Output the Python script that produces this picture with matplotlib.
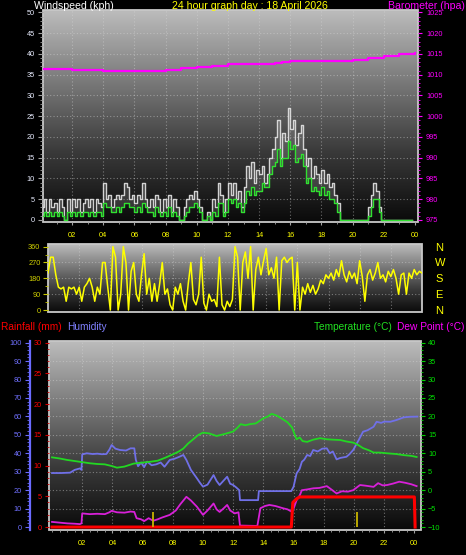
import numpy as np
import matplotlib
matplotlib.use('Agg')
import matplotlib.pyplot as plt
from matplotlib.colors import LinearSegmentedColormap
from matplotlib.patches import Rectangle
from matplotlib.ticker import MultipleLocator

# ---------------- DATA ----------------
title = '24 hour graph day : 18 April 2026'
hour_ticks = [2, 4, 6, 8, 10, 12, 14, 16, 18, 20, 22, 24]
hour_labels = ['02', '04', '06', '08', '10', '12', '14', '16', '18', '20', '22', '00']

# wind, 10-minute samples (kph)
wind_step_h = 1 / 6
wind_gust = [
    3, 5, 2, 5, 3, 4,   2, 5, 3, 0, 5, 2,   5, 3, 5, 2, 4, 5,   3, 5, 2, 5, 4, 3,
    9, 5, 6, 3, 5, 6,   5, 6, 9, 8, 5, 6,   4, 6, 5, 9, 5, 3,   5, 3, 6, 5, 2, 5,
    3, 6, 2, 5, 3, 0,   0, 3, 5, 6, 5, 7,   5, 3, 0, 0, 2, 0,   5, 3, 9, 6, 2, 5,
    9, 6, 9, 5, 7, 3,   8, 13, 10, 14, 9, 12,   11, 13, 9, 11, 15, 17,   20, 24, 15, 21, 19, 27,
    22, 24, 18, 21, 23, 17,   13, 15, 10, 13, 11, 9,   12, 9, 11, 8, 9, 6,   4, 0, 0, 0, 0, 0,
    0, 0, 0, 0, 0, 0,   3, 6, 9, 7, 3, 0,   0, 0, 0, 0, 0, 0,   0, 0, 0, 0, 0, 0]
wind_avg = [
    1, 2, 1, 2, 1, 2,   1, 2, 1, 0, 2, 1,   2, 1, 2, 1, 2, 2,   1, 2, 1, 2, 2, 1,
    4, 3, 3, 2, 2, 3,   2, 3, 4, 4, 3, 3,   2, 3, 2, 4, 3, 2,   2, 1, 3, 2, 1, 2,
    1, 3, 1, 2, 1, 0,   0, 1, 2, 3, 3, 4,   3, 2, 0, 0, 1, 0,   2, 1, 4, 4, 1, 2,
    5, 4, 5, 3, 4, 2,   4, 7, 6, 8, 6, 7,   7, 9, 8, 8, 11, 13,   14, 17, 13, 15, 15, 19,
    17, 18, 14, 15, 16, 13,   9, 10, 7, 8, 7, 6,   8, 6, 7, 5, 5, 4,   2, 0, 0, 0, 0, 0,
    0, 0, 0, 0, 0, 0,   1, 3, 5, 5, 2, 0,   0, 0, 0, 0, 0, 0,   0, 0, 0, 0, 0, 0]

baro_t = [0, 1, 2, 3, 4, 5, 6, 7, 8, 9, 10, 11, 12, 13, 14, 15, 15.5, 16, 17, 18, 19, 20, 21, 22, 23, 24]
baro_hpa = [1011.3, 1011.3, 1011.2, 1011.1, 1011.0, 1011.0, 1010.9, 1010.9, 1011.1, 1011.5,
            1011.9, 1012.2, 1012.5, 1012.6, 1012.7, 1012.9, 1013.0, 1013.4, 1013.4, 1013.4,
            1013.4, 1013.6, 1014.0, 1014.5, 1014.9, 1015.3]

# wind direction, 10-minute samples (degrees)
wind_dir = [
    210, 300, 300, 200, 130, 120,   130, 50, 130, 120, 130, 90,   130, 50, 130, 150, 180, 130,
    50, 130, 90, 270, 270, 130,     0, 360, 300, 0, 90, 360,      270, 0, 220, 270, 90, 50,
    200, 320, 90, 180, 50, 150,     50, 150, 270, 90, 120, 30,    0, 130, 90, 150, 50, 0,
    150, 270, 60, 30, 90, 300,      40, 0, 90, 50, 60, 20,        300, 30, 0, 50, 20, 60,
    360, 300, 0, 270, 330, 180,     360, 0, 230, 300, 200, 280,   350, 200, 240, 180, 300, 0,
    280, 300, 270, 290, 300, 0,     270, 0, 130, 90, 150, 100,    140, 90, 120, 170, 150, 200,
    180, 210, 170, 230, 190, 280,   200, 160, 220, 180, 210, 150, 280, 190, 50, 200, 230, 170,
    210, 270, 180, 200, 160, 220,   190, 230, 180, 90, 200, 210,  90, 210, 180, 230, 200, 220,
    210]
dir_ticks = [0, 90, 180, 270, 360]
compass = ['N', 'E', 'S', 'W', 'N']

temp_t = [0.0, 0.5, 1.0, 1.5, 2.0, 2.5, 3.0, 3.5, 4.0, 4.3, 4.8, 5.4, 6.0, 6.5, 7.0, 7.5, 8.0, 8.4,
          8.7, 9.0, 9.35, 9.7, 10.0, 10.4, 10.9, 11.4, 12.0, 12.3, 12.5, 12.8, 13.1, 13.5, 14.0,
          14.3, 14.55, 14.9, 15.3, 15.6, 15.9, 16.1, 16.2, 16.4, 16.6, 16.9, 17.3, 17.75, 18.2,
          18.6, 19.1, 19.5, 19.95, 20.3, 20.6, 21.0, 21.3, 21.7, 22.2, 22.8, 23.3, 23.8, 24.15]
temp_c = [8.9, 8.6, 8.2, 7.9, 7.6, 7.3, 7.1, 7.0, 6.5, 6.1, 6.4, 7.2, 7.5, 7.7, 8.0, 8.8, 9.7, 10.5,
          11.3, 12.6, 13.8, 15.0, 15.6, 15.4, 14.7, 15.2, 15.9, 17.0, 17.9, 17.6, 17.9, 18.1, 19.5,
          20.0, 20.7, 20.2, 19.2, 18.4, 17.0, 14.8, 13.8, 14.3, 13.3, 13.1, 13.7, 14.1, 13.8,
          13.7, 13.6, 13.2, 12.9, 12.2, 11.4, 10.8, 10.2, 10.2, 10.0, 9.8, 9.5, 9.3, 9.0]

hum_t = [0.0, 0.6, 1.2, 1.5, 1.85, 1.95, 2.0, 2.3, 2.7, 3.0, 3.3, 3.6, 3.8, 3.95, 4.2, 4.5, 4.9,
         5.2, 5.45, 5.55, 5.7, 5.9, 6.1, 6.3, 6.6, 6.9, 7.2, 7.45, 7.8, 8.1, 8.4, 8.7, 8.9, 9.2,
         9.6, 9.8, 10.0, 10.3, 10.7, 10.9, 11.1, 11.4, 11.6, 11.8, 12.0, 12.2, 12.4, 12.45,
         13.65, 13.7, 15.85, 16.0, 16.2, 16.4, 16.55, 16.7, 16.9, 17.1, 17.3, 17.6, 17.9, 18.2,
         18.4, 18.6, 18.85, 19.1, 19.5, 19.7, 19.95, 20.3, 20.6, 20.9, 21.3, 21.5, 21.8, 22.0,
         22.4, 22.8, 23.3, 23.7, 24.2]
hum_pct = [29.3, 29.3, 29.5, 31.0, 31.8, 31.0, 39.4, 40.0, 39.6, 39.8, 39.5, 39.6, 42.0, 44.5,
           42.5, 41.8, 41.5, 42.7, 42.7, 36.5, 33.0, 35.0, 32.5, 35.5, 33.5, 34.0, 35.0, 32.7,
           36.4, 37.0, 38.0, 39.1, 36.4, 31.0, 26.4, 24.0, 21.9, 23.0, 28.2, 25.0, 22.8, 25.5,
           27.3, 23.5, 22.8, 21.5, 20.0, 14.6, 14.6, 19.5, 19.5, 21.9, 29.1, 31.5, 35.4, 36.5,
           39.1, 38.5, 41.8, 41.0, 42.5, 42.7, 40.0, 41.0, 36.7, 37.5, 38.1, 39.5, 41.8, 47.0,
           51.7, 52.5, 54.4, 57.1, 56.5, 57.2, 57.1, 58.0, 59.5, 59.8, 59.9]

dew_t = [0.0, 0.5, 1.0, 1.5, 1.85, 1.95, 2.0, 2.5, 3.0, 3.5, 3.8, 3.95, 4.3, 4.8, 5.2, 5.45, 5.6,
         5.9, 6.1, 6.4, 6.7, 7.0, 7.3, 7.8, 8.2, 8.5, 8.9, 9.2, 9.6, 10.0, 10.3, 10.7, 10.9, 11.1,
         11.4, 11.6, 11.8, 12.1, 12.35, 12.45, 13.6, 13.8, 14.1, 14.4, 14.8, 15.3, 15.6, 15.9,
         16.0, 16.2, 16.4, 16.55, 16.9, 17.3, 17.7, 18.2, 18.5, 18.85, 19.2, 19.6, 19.95, 20.4,
         20.8, 21.3, 21.6, 21.9, 22.2, 22.6, 23.0, 23.4, 23.8, 24.15]
dew_c = [-8.6, -8.8, -9.0, -9.1, -9.2, -9.0, -6.3, -6.5, -6.4, -6.5, -6.0, -5.6, -6.0, -6.1, -5.8,
         -5.9, -7.6, -7.9, -8.4, -7.6, -8.3, -7.9, -7.4, -6.7, -5.5, -3.8, -1.8, -2.8, -4.5, -6.7,
         -5.5, -3.6, -5.2, -5.9, -4.8, -4.0, -5.5, -6.3, -6.0, -9.6, -9.7, -4.9, -4.3, -4.0, -4.3,
         -4.9, -5.2, -5.9, -5.0, -2.7, -1.5, 0.0, 0.2, 0.5, 0.6, 1.1, 0.2, -0.9, -0.3, -0.4, 0.0,
         1.4, 1.2, 0.9, 1.9, 1.3, 1.4, 1.8, 2.3, 2.0, 1.6, 1.1]

rain_t = [0.0, 15.85, 15.95, 16.2, 16.4, 24.0, 24.05]
rain_mm = [0.0, 0.0, 4.0, 4.6, 4.9, 4.9, 0.0]
mark_t = [6.67, 20.2]
mark_mm = [2.4, 2.4]

# ---------------- FIGURE ----------------
W, H = 466, 555
fig = plt.figure(figsize=(W / 100, H / 100), dpi=100, facecolor='black')
plt.rcParams['font.family'] = ['Liberation Sans', 'DejaVu Sans']
PT = 0.72  # points per pixel
TICKFS = 5.3


def rect(x0, y0, x1, y1):
    return [x0 / W, 1 - y1 / H, (x1 - x0) / W, (y1 - y0) / H]


cmap = LinearSegmentedColormap.from_list('g', ['#0a0a0a', '#3a3a3a', '#7a7a7a', '#bcbcbc'])


def add_bg(r):
    bg = fig.add_axes(r, zorder=0)
    grad = np.linspace(0, 1, 256).reshape(-1, 1)
    bg.imshow(grad, cmap=cmap, aspect='auto', origin='lower', extent=(0, 1, 0, 1))
    bg.set_axis_off()
    bg.add_patch(Rectangle((0, 0), 1, 1, transform=bg.transAxes, fill=False,
                           ec='#c8c8c8', lw=1.3, clip_on=False))
    return bg


def clean(ax):
    for s in ax.spines.values():
        s.set_visible(False)


gridkw = dict(color='#d8d8d8', alpha=0.45, linestyle=(0, (1, 2)), linewidth=0.8)

# ---- top panel: wind + barometer ----
r1 = rect(43, 10, 418, 222)
add_bg(r1)
ax1 = fig.add_axes(r1, zorder=1, facecolor='none')
clean(ax1)
wt = np.arange(len(wind_gust)) * wind_step_h
ax1.fill_between(wt, wind_avg, wind_gust, step='post', color='#d0d0d0', alpha=0.18, lw=0)
ax1.plot(wt, wind_gust, color='#e4e4e4', lw=1.0, drawstyle='steps-post', alpha=0.9)
ax1.plot(wt, wind_avg, color='#30e030', lw=1.0, drawstyle='steps-post')
ax1.set_xlim(0.13, 24.2)
ax1.set_ylim(-0.5, 50.6)
ax1.yaxis.set_major_locator(MultipleLocator(5))
ax1.yaxis.set_minor_locator(MultipleLocator(1))
ax1.tick_params(axis='y', which='major', length=5 * PT, color='#a0a0a0', labelcolor='#e8ecff',
                labelsize=TICKFS, pad=3 * PT)
ax1.tick_params(axis='y', which='minor', length=3 * PT, color='#a0a0a0')
ax1.set_xticks(hour_ticks)
ax1.set_xticklabels(hour_labels)
ax1.xaxis.set_minor_locator(MultipleLocator(1))
ax1.tick_params(axis='x', which='major', length=3 * PT, color='#a0a0a0', labelcolor='#ffff00',
                labelsize=TICKFS, pad=7 * PT)
ax1.tick_params(axis='x', which='minor', length=2 * PT, color='#a0a0a0')
for v in range(5, 50, 5):
    ax1.axhline(v, **gridkw, zorder=0)
for v in hour_ticks[:-1]:
    ax1.axvline(v, **gridkw, zorder=0)

ax1b = ax1.twinx()
clean(ax1b)
ax1b.plot(baro_t, baro_hpa, color='#ff00ff', lw=1.6, drawstyle='steps-post')
ax1b.set_ylim(974.5, 1025.6)
ax1b.yaxis.set_major_locator(MultipleLocator(5))
ax1b.yaxis.set_minor_locator(MultipleLocator(1))
ax1b.tick_params(axis='y', which='major', length=4 * PT, color='#ff00ff', labelcolor='#ff00ff',
                 labelsize=TICKFS, pad=4 * PT)
ax1b.tick_params(axis='y', which='minor', length=2.5 * PT, color='#ff00ff')

# ---- middle panel: wind direction ----
r2 = rect(48, 244, 422, 312)
add_bg(r2)
ax2 = fig.add_axes(r2, zorder=1, facecolor='none')
clean(ax2)
dt = np.arange(len(wind_dir)) * wind_step_h
ax2.plot(dt, wind_dir, color='#ffff00', lw=1.1)
ax2.set_xlim(0, 24)
ax2.set_ylim(-11, 375)
ax2.set_xticks([])
ax2.set_yticks(dir_ticks)
ax2.yaxis.set_minor_locator(MultipleLocator(45))
ax2.tick_params(axis='y', which='major', length=5 * PT, color='#c8c800', labelcolor='#d0d000',
                labelsize=TICKFS, pad=2.5 * PT)
ax2.tick_params(axis='y', which='minor', length=3 * PT, color='#c8c800')
for v in [90, 180, 270]:
    ax2.axhline(v, **gridkw, zorder=0)
for v in hour_ticks[:-1]:
    ax2.axvline(v, **gridkw, zorder=0)
ax2b = ax2.twinx()
clean(ax2b)
ax2b.set_ylim(ax2.get_ylim())
ax2b.set_yticks(dir_ticks)
ax2b.set_yticklabels(compass)
ax2b.tick_params(axis='y', length=0, labelcolor='#ffff00', labelsize=8, pad=13 * PT)

# ---- bottom panel: rain, humidity, temperature, dew point ----
r3 = rect(49, 341, 421, 530)
add_bg(r3)
ax3 = fig.add_axes(r3, zorder=1, facecolor='none')
for k in ['top', 'right', 'bottom']:
    ax3.spines[k].set_visible(False)
ax3.spines['left'].set_position(('outward', 19 * PT))
ax3.spines['left'].set_color('#6a6aff')
ax3.spines['left'].set_linewidth(1.6)
ax3.plot(hum_t, hum_pct, color='#7070e8', lw=1.3)
ax3.set_xlim(-0.2, 24.44)
ax3.set_ylim(-1.6, 100.9)
ax3.yaxis.set_major_locator(MultipleLocator(10))
ax3.yaxis.set_minor_locator(MultipleLocator(2))
ax3.tick_params(axis='y', which='major', length=5 * PT, color='#6a6aff', labelcolor='#7070ff',
                labelsize=TICKFS, pad=3 * PT)
ax3.tick_params(axis='y', which='minor', length=3 * PT, color='#6a6aff')
ax3.set_xticks(hour_ticks)
ax3.set_xticklabels(hour_labels)
ax3.xaxis.set_minor_locator(MultipleLocator(0.5))
ax3.tick_params(axis='x', which='major', length=3 * PT, color='#a0a0a0', labelcolor='#ffff00',
                labelsize=TICKFS, pad=7 * PT)
ax3.tick_params(axis='x', which='minor', length=2 * PT, color='#a0a0a0')
for v in range(10, 100, 10):
    ax3.axhline(v, **gridkw, zorder=0)
for v in hour_ticks[:-1]:
    ax3.axvline(v, **gridkw, zorder=0)

ax3t = ax3.twinx()
clean(ax3t)
ax3t.plot(temp_t, temp_c, color='#22d822', lw=1.3)
ax3t.plot(dew_t, dew_c, color='#d820d8', lw=1.3)
ax3t.set_ylim(-10.8, 40.45)
ax3t.yaxis.set_major_locator(MultipleLocator(5))
ax3t.yaxis.set_minor_locator(MultipleLocator(1))
ax3t.tick_params(axis='y', which='major', length=4 * PT, color='#00d000', labelcolor='#00e000',
                 labelsize=TICKFS, pad=3 * PT)
ax3t.tick_params(axis='y', which='minor', length=2.5 * PT, color='#00d000')

ax3r = ax3.twinx()
clean(ax3r)
ax3r.yaxis.tick_left()
ax3r.plot(rain_t, rain_mm, color='#ff0000', lw=2.2)
ax3r.vlines(mark_t, 0, mark_mm, color='#c8b400', lw=1.3)
ax3r.set_ylim(-0.48, 30.27)
ax3r.yaxis.set_major_locator(MultipleLocator(5))
ax3r.yaxis.set_minor_locator(MultipleLocator(1))
ax3r.tick_params(axis='y', which='major', length=4 * PT, color='#d00000', labelcolor='#ff0000',
                 labelsize=TICKFS, pad=3 * PT)
ax3r.tick_params(axis='y', which='minor', length=2.5 * PT, color='#d00000')

# ---- header texts ----
HFS = 7.6
fig.text(34 / W, 1 - 6 / H, 'Windspeed (kph)', color='white', fontsize=HFS, ha='left', va='center')
fig.text(250 / W, 1 - 6 / H, title, color='#ffff00', fontsize=HFS, ha='center', va='center')
fig.text(465 / W, 1 - 6 / H, 'Barometer (hpa)', color='#ff00ff', fontsize=HFS, ha='right', va='center')
y2 = 1 - 327 / H
HFS2 = 7.3
fig.text(1 / W, y2, 'Rainfall (mm)', color='#ff0000', fontsize=HFS2, ha='left', va='center')
fig.text(67 / W, y2, 'Humidity', color='#8080ff', fontsize=HFS2, ha='left', va='center')
fig.text(392 / W, y2, 'Temperature (°C)', color='#22e022', fontsize=HFS2, ha='right', va='center')
fig.text(464 / W, y2, 'Dew Point (°C)', color='#ff00ff', fontsize=HFS2, ha='right', va='center')

fig.savefig('out.png', dpi=100, facecolor='black')
